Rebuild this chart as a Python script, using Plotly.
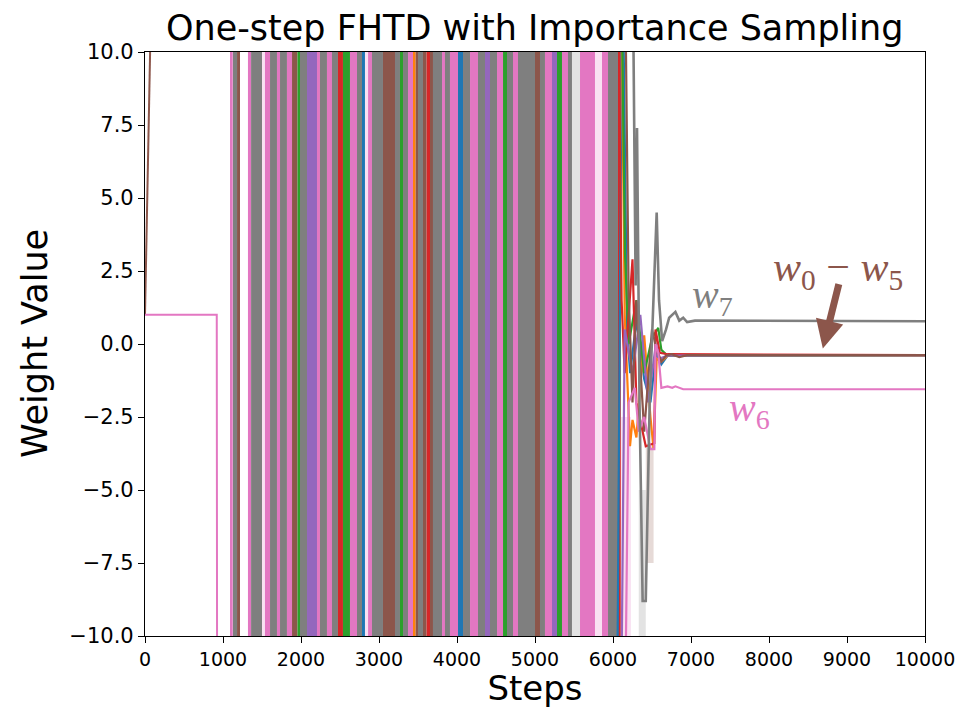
import plotly.graph_objects as go

# ---------------- data ----------------
weight_names = ["w0", "w1", "w2", "w3", "w4", "w5", "w6", "w7"]
weight_colors = ["#1f77b4", "#ff7f0e", "#2ca02c", "#d62728",
                 "#9467bd", "#8c564b", "#e377c2", "#7f7f7f"]

# divergence intervals (steps) where a weight oscillates far outside [-10, 10]
div_start = [1100, 1128, 1180, 1320, 1360, 1538, 1603, 1692, 1731, 1820, 1885, 1955, 1987,
             2077, 2205, 2243, 2333, 2397, 2474, 2538, 2628, 2718, 2782, 2860, 2910, 3051,
             3205, 3269, 3308, 3372, 3436, 3470, 3500, 3564, 3610, 3654, 3692, 3808, 3846,
             3910, 4013, 4077, 4167, 4269, 4359, 4423, 4513, 4590, 4641, 4718, 4782, 5000,
             5064, 5128, 5218, 5282, 5346, 5423, 5577, 5859, 5936, 6064]
div_end = [1125, 1180, 1218, 1360, 1500, 1603, 1692, 1731, 1820, 1885, 1955, 1987, 2077,
           2205, 2243, 2333, 2397, 2474, 2538, 2628, 2718, 2782, 2820, 2910, 3051, 3205,
           3269, 3308, 3372, 3436, 3470, 3500, 3564, 3610, 3654, 3692, 3808, 3846, 3910,
           4013, 4077, 4167, 4269, 4359, 4423, 4513, 4590, 4641, 4718, 4782, 5000, 5064,
           5128, 5218, 5282, 5346, 5423, 5474, 5769, 5936, 6064, 6100]
div_weight = [6, 7, 5, 6, 7, 6, 7, 6, 7, 6, 5, 2, 7,
              4, 6, 7, 6, 7, 3, 2, 6, 7, 0, 6, 7, 5,
              7, 2, 7, 6, 1, 5, 7, 5, 3, 5, 7, 6, 7,
              6, 0, 7, 6, 7, 4, 7, 6, 2, 7, 6, 7, 5,
              7, 6, 4, 2, 6, 7, 6, 6, 7, 3]

# variance (shaded) intervals: step range and value range
shade_start = [1500, 2820, 5474, 5769, 6100, 6330, 6420]
shade_end = [1538, 2860, 5577, 5859, 6230, 6420, 6520]
shade_low = [-10, -10, -10, -10, -10, -10, -7.5]
shade_high = [10, 10, 10, 10, -2.5, -5.0, -3.5]
shade_weight = [6, 6, 7, 6, 6, 7, 5]

# early trajectories
early_steps = {5: [0, 80], 6: [0, 920, 925]}
early_vals = {5: [1.0, 12.0], 6: [1.0, 1.0, -14.0]}

# trajectories after divergence
w0_steps = [6050, 6120, 6180, 6220, 6300, 6400, 6480, 6550, 6620, 6700, 10000]
w0_vals = [-14, 14, 0.5, -1.0, 0.8, -1.2, -2.0, -0.3, -0.7, -0.4, -0.38]
w1_steps = [6100, 6150, 6218, 6250, 6300, 6400, 6480, 6520, 6560, 6620, 6700, 10000]
w1_vals = [14, 1.0, -3.5, -2.6, -3.2, 0.3, -2.5, -3.6, -0.5, -0.6, -0.4, -0.38]
w2_steps = [6100, 6154, 6200, 6300, 6400, 6500, 6580, 6620, 6700, 10000]
w2_vals = [14, 3.1, 0.0, 1.5, -1.0, 0.2, 0.55, -0.2, -0.4, -0.38]
w3_steps = [6064, 6110, 6150, 6250, 6300, 6420, 6530, 6545, 6600, 6700, 10000]
w3_vals = [14, 1.5, -1.0, 2.9, -2.0, -3.5, -3.4, 0.5, -0.3, -0.35, -0.38]
w4_steps = [6100, 6150, 6250, 6350, 6450, 6550, 6600, 6700, 10000]
w4_vals = [-14, 0.5, -1.0, 1.0, -2.0, 0.0, -0.5, -0.4, -0.38]
w5_steps = [6150, 6200, 6250, 6300, 6400, 6500, 6560, 6620, 6680, 6750, 6850, 6950, 10000]
w5_vals = [14, 1.8, -2.0, 1.5, -3.0, 0.5, -0.2, -0.6, -0.4, -0.35, -0.45, -0.38, -0.38]
w6_steps = [6150, 6200, 6280, 6330, 6400, 6480, 6530, 6545, 6580, 6620, 6700, 6760, 6800, 6900, 10000]
w6_vals = [-14, -2.0, -1.5, -3.0, -2.5, -3.6, -3.6, 0.0, -0.3, -1.5, -1.45, -1.5, -1.45, -1.55, -1.55]
w7_steps = [6250, 6290, 6308, 6340, 6380, 6420, 6470, 6520, 6560, 6590, 6630, 6680, 6720,
            6800, 6850, 6900, 6950, 7050, 10000]
w7_vals = [14, 2, 7.4, -2, -8.8, -8.8, -2, 1.5, 4.5, 1.5, 0.1, 0.5, 0.9, 1.1, 0.8, 0.9,
           0.75, 0.8, 0.78]

late_steps = [w0_steps, w1_steps, w2_steps, w3_steps, w4_steps, w5_steps, w6_steps, w7_steps]
late_vals = [w0_vals, w1_vals, w2_vals, w3_vals, w4_vals, w5_vals, w6_vals, w7_vals]

x_ticks = [0, 1000, 2000, 3000, 4000, 5000, 6000, 7000, 8000, 9000, 10000]
y_ticks = [-10.0, -7.5, -5.0, -2.5, 0.0, 2.5, 5.0, 7.5, 10.0]
Y_MIN, Y_MAX = -10, 10


def hex_rgba(h, a):
    h = h.lstrip("#")
    return "rgba(%d,%d,%d,%.2f)" % (int(h[0:2], 16), int(h[2:4], 16), int(h[4:6], 16), a)


fig = go.Figure()

# shaded intervals
fig.add_trace(go.Bar(
    x=[(s + e) / 2 for s, e in zip(shade_start, shade_end)],
    width=[e - s for s, e in zip(shade_start, shade_end)],
    y=[h - l for l, h in zip(shade_low, shade_high)], base=shade_low,
    marker=dict(color=[hex_rgba(weight_colors[w], 0.22) for w in shade_weight], line=dict(width=0)),
    showlegend=False, hoverinfo="skip"))

# divergence intervals
fig.add_trace(go.Bar(
    x=[(s + e) / 2 for s, e in zip(div_start, div_end)],
    width=[e - s for s, e in zip(div_start, div_end)],
    y=[Y_MAX - Y_MIN] * len(div_start), base=Y_MIN,
    marker=dict(color=[weight_colors[w] for w in div_weight], line=dict(width=0)),
    showlegend=False, hoverinfo="skip"))

for w, steps in early_steps.items():
    fig.add_trace(go.Scatter(x=steps, y=early_vals[w], mode="lines",
                             line=dict(color=weight_colors[w], width=2),
                             showlegend=False, hoverinfo="skip"))

for i in range(8):
    fig.add_trace(go.Scatter(x=late_steps[i], y=late_vals[i], mode="lines",
                             line=dict(color=weight_colors[i], width=2.6 if i == 7 else 2.2),
                             name=weight_names[i], showlegend=False))

font_family = "DejaVu Sans"
math_font = "Liberation Serif"

fig.add_annotation(x=7270, y=1.6, xref="x", yref="y", showarrow=False,
                   text="<i>w</i><sub>7</sub>",
                   font=dict(family=math_font, size=40, color="#7f7f7f"))
fig.add_annotation(x=7756, y=-2.25, xref="x", yref="y", showarrow=False,
                   text="<i>w</i><sub>6</sub>",
                   font=dict(family=math_font, size=40, color="#e377c2"))
fig.add_annotation(x=8880, y=2.55, xref="x", yref="y", showarrow=False,
                   text="<i>w</i><sub>0</sub> − <i>w</i><sub>5</sub>",
                   font=dict(family=math_font, size=42, color="#8c564b"))
fig.add_annotation(x=8690, y=-0.15, ax=8900, ay=2.1, xref="x", yref="y",
                   axref="x", ayref="y", showarrow=True, text="",
                   arrowhead=2, arrowsize=0.8, arrowwidth=7, arrowcolor="#8c564b")

# y-axis title
fig.add_annotation(x=-0.141, y=0.5, xref="paper", yref="paper", showarrow=False,
                   text="Weight Value", textangle=-90, xanchor="center", yanchor="middle",
                   font=dict(family=font_family, size=35, color="black"))

fig.update_layout(
    width=949, height=700,
    margin=dict(l=137, r=32, t=44, b=72),
    paper_bgcolor="white", plot_bgcolor="white",
    barmode="overlay",
    font=dict(family=font_family, color="black"),
    title=dict(text="One-step FHTD with Importance Sampling", x=0.555, xanchor="center",
               y=0.972, yanchor="middle", font=dict(size=35, family=font_family),
               automargin=False),
)
fig.update_xaxes(range=[0, 10000], tickvals=x_ticks, ticktext=[str(t) for t in x_ticks],
                 ticks="outside", ticklen=6, tickcolor="black", showgrid=False, zeroline=False,
                 showline=True, linecolor="black", linewidth=1.2, mirror=True, automargin=False,
                 tickfont=dict(size=19), title=dict(text="Steps", font=dict(size=34), standoff=10))
fig.update_yaxes(range=[Y_MIN, Y_MAX], tickvals=y_ticks, tickformat=".1f",
                 ticks="outside", ticklen=6, tickcolor="black", showgrid=False, zeroline=False,
                 showline=True, linecolor="black", linewidth=1.2, mirror=True, automargin=False,
                 tickfont=dict(size=21))

fig.write_html("out.html")
